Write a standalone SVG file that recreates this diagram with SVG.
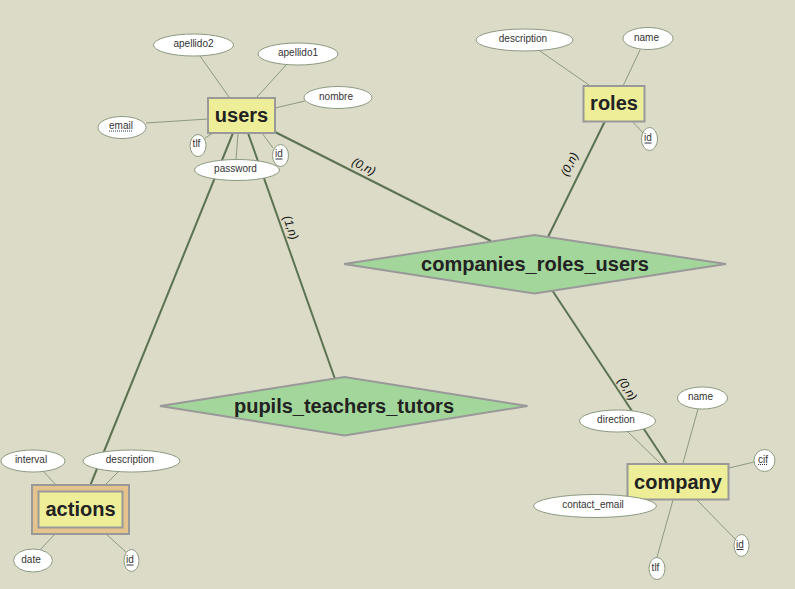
<svg xmlns="http://www.w3.org/2000/svg" width="795" height="589" viewBox="0 0 795 589">
<style>
.rel{stroke:#5c7352;stroke-width:2;fill:none}
.att{stroke:#8b9a80;stroke-width:1;fill:none}
.ent{fill:#eeee99;stroke:#999999;stroke-width:2}
.weak{fill:#e5c38d;stroke:#999999;stroke-width:2}
.dia{fill:#a3d69a;stroke:#999999;stroke-width:2}
.ell{fill:#ffffff;stroke:#8b9a80;stroke-width:1}
.et{font-family:"Liberation Sans",Arial,sans-serif;font-weight:bold;font-size:20px;fill:#222222;text-anchor:middle}
.at{font-family:"Liberation Sans",Arial,sans-serif;font-size:10px;fill:#333333;text-anchor:middle}
.lb{font-family:"Liberation Sans",Arial,sans-serif;font-size:12px;font-style:italic;fill:#111111;text-anchor:middle}
.ul{stroke:#334;stroke-width:1}
.dul{stroke:#334;stroke-width:1;stroke-dasharray:1,1}
</style>
<rect x="0" y="0" width="795" height="589" fill="#dbdbc7"/>
<g id="connectors">
  <line class="rel" x1="233" y1="133" x2="90" y2="486"/>
  <line class="rel" x1="248" y1="133" x2="335" y2="379"/>
  <line class="rel" x1="275" y1="132" x2="491" y2="241"/>
  <line class="rel" x1="605" y1="121" x2="548" y2="237"/>
  <line class="rel" x1="552" y1="290" x2="667" y2="464"/>
  <line class="att" x1="200" y1="56" x2="229" y2="97"/>
  <line class="att" x1="287" y1="64" x2="257" y2="97"/>
  <line class="att" x1="305" y1="101" x2="275" y2="108"/>
  <line class="att" x1="146" y1="123" x2="208" y2="119"/>
  <line class="att" x1="205" y1="138" x2="213" y2="133"/>
  <line class="att" x1="273" y1="148" x2="262" y2="133"/>
  <line class="att" x1="236" y1="160" x2="238" y2="133"/>
  <line class="att" x1="540" y1="51" x2="589" y2="85"/>
  <line class="att" x1="640" y1="50" x2="623" y2="86"/>
  <line class="att" x1="643" y1="133" x2="632" y2="121"/>
  <line class="att" x1="43" y1="471" x2="56" y2="485"/>
  <line class="att" x1="118" y1="472" x2="105" y2="485"/>
  <line class="att" x1="40" y1="550" x2="55" y2="534"/>
  <line class="att" x1="126" y1="552" x2="106" y2="534"/>
  <line class="att" x1="698" y1="409" x2="683" y2="463"/>
  <line class="att" x1="628" y1="432" x2="660" y2="463"/>
  <line class="att" x1="754" y1="462" x2="729" y2="468"/>
  <line class="att" x1="736" y1="540" x2="697" y2="500"/>
  <line class="att" x1="657" y1="557" x2="673" y2="500"/>
  <text class="lb" transform="translate(362,170) rotate(27)">(0,n)</text>
  <text class="lb" transform="translate(287,229) rotate(70.6)">(1,n)</text>
  <text class="lb" transform="translate(573,166) rotate(-63.8)">(0,n)</text>
  <text class="lb" transform="translate(624,391) rotate(56.8)">(0,n)</text>
</g>
<g id="companies_roles_users">
  <polygon class="dia" points="344,264 534.5,235 726,264 534.5,293.5"/>
  <text class="et" x="535" y="271">companies_roles_users</text>
</g>
<g id="pupils_teachers_tutors">
  <polygon class="dia" points="160,406 344.5,377 527.5,406 344.5,435.5"/>
  <text class="et" x="344" y="413">pupils_teachers_tutors</text>
</g>
<g id="users">
  <rect class="ent" x="208" y="98" width="67" height="35"/>
  <text class="et" x="241.5" y="122">users</text>
  <ellipse class="ell" cx="193.5" cy="45" rx="40" ry="11"/>
  <text class="at" x="193.5" y="47">apellido2</text>
  <ellipse class="ell" cx="298" cy="54" rx="40" ry="11"/>
  <text class="at" x="298" y="56">apellido1</text>
  <ellipse class="ell" cx="338" cy="97.5" rx="34" ry="11"/>
  <text class="at" x="336" y="99.5">nombre</text>
  <ellipse class="ell" cx="122" cy="127.5" rx="24" ry="11"/>
  <text class="at" x="121" y="129">email</text>
  <line class="dul" x1="109" y1="131" x2="133" y2="131"/>
  <ellipse class="ell" cx="198" cy="145.5" rx="8" ry="11"/>
  <text class="at" x="196.5" y="147">tlf</text>
  <ellipse class="ell" cx="280.5" cy="155.5" rx="8" ry="11"/>
  <text class="at" x="279" y="157">id</text>
  <line class="ul" x1="275.5" y1="159" x2="282.5" y2="159"/>
  <ellipse class="ell" cx="237" cy="170" rx="42.5" ry="10.5"/>
  <text class="at" x="235.5" y="172">password</text>
</g>
<g id="roles">
  <rect class="ent" x="583.5" y="86" width="61" height="35.5"/>
  <text class="et" x="614" y="110">roles</text>
  <ellipse class="ell" cx="524.5" cy="40" rx="48.5" ry="11"/>
  <text class="at" x="523" y="42">description</text>
  <ellipse class="ell" cx="648" cy="38.5" rx="25" ry="11"/>
  <text class="at" x="646.5" y="40.5">name</text>
  <ellipse class="ell" cx="649.5" cy="139" rx="8" ry="11.5"/>
  <text class="at" x="648" y="141">id</text>
  <line class="ul" x1="644.5" y1="143" x2="651.5" y2="143"/>
</g>
<g id="actions">
  <rect class="weak" x="32" y="485" width="97" height="49"/>
  <rect class="ent" x="38.5" y="491.5" width="84" height="36"/>
  <text class="et" x="80.5" y="516">actions</text>
  <ellipse class="ell" cx="33" cy="461" rx="32" ry="11"/>
  <text class="at" x="31" y="463">interval</text>
  <ellipse class="ell" cx="131.5" cy="461" rx="48.5" ry="11"/>
  <text class="at" x="130" y="463">description</text>
  <ellipse class="ell" cx="33" cy="560.5" rx="19.5" ry="11.5"/>
  <text class="at" x="31" y="563">date</text>
  <ellipse class="ell" cx="131.5" cy="560.5" rx="7.5" ry="11"/>
  <text class="at" x="130" y="563">id</text>
  <line class="ul" x1="126.5" y1="565" x2="133.5" y2="565"/>
</g>
<g id="company">
  <rect class="ent" x="627.5" y="464" width="101" height="35.5"/>
  <text class="et" x="678" y="488.5">company</text>
  <ellipse class="ell" cx="702.5" cy="398" rx="25" ry="11"/>
  <text class="at" x="700.5" y="400">name</text>
  <ellipse class="ell" cx="617.5" cy="421" rx="38" ry="11"/>
  <text class="at" x="616" y="423">direction</text>
  <ellipse class="ell" cx="764.5" cy="460.5" rx="10.5" ry="11"/>
  <text class="at" x="763" y="462.5">cif</text>
  <line class="dul" x1="758" y1="464.5" x2="768" y2="464.5"/>
  <ellipse class="ell" cx="595" cy="506" rx="61.5" ry="11.5"/>
  <text class="at" x="593" y="508">contact_email</text>
  <ellipse class="ell" cx="741.5" cy="545.5" rx="7.5" ry="11"/>
  <text class="at" x="740" y="547.5">id</text>
  <line class="ul" x1="736.5" y1="549.5" x2="743.5" y2="549.5"/>
  <ellipse class="ell" cx="657" cy="568.5" rx="8" ry="11"/>
  <text class="at" x="655.5" y="570.5">tlf</text>
</g>
</svg>
